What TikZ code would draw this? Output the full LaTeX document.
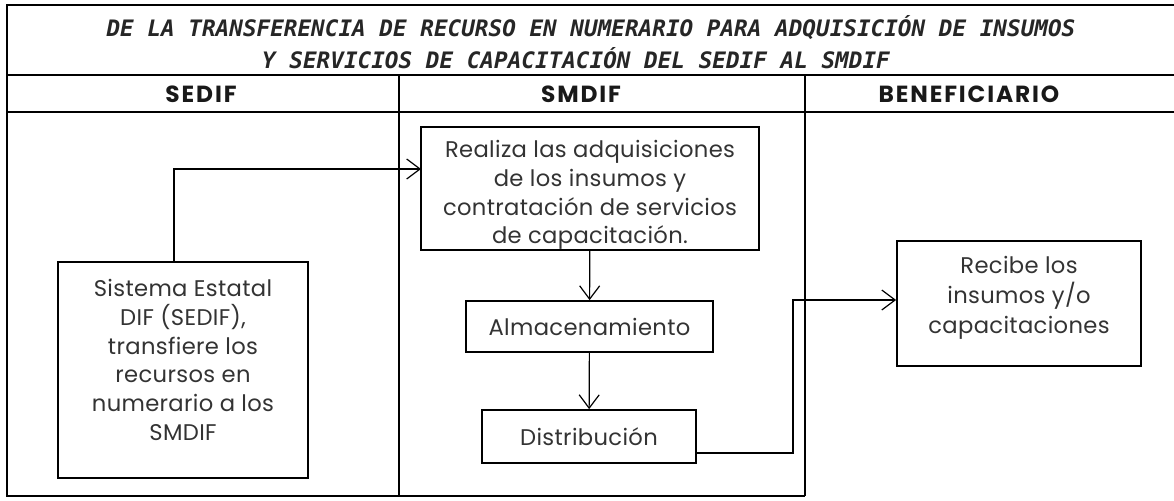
\documentclass[tikz,border=0pt]{standalone}
\usepackage{fontspec}
\usepackage{tikz}
\usetikzlibrary{arrows.meta,positioning}
\setmainfont{Poppins}[LetterSpace=1.5]
\newfontfamily\headfont[LetterSpace=8]{Poppins}
\newfontfamily\titlefont{DejaVu Sans Mono}

\tikzset{
  procbox/.style={draw, line width=1.3pt, align=center, inner sep=0pt,
    font=\fontsize{17}{21.5}\selectfont, text=black!80},
  headtext/.style={font=\headfont\fontsize{17.5}{18}\selectfont\bfseries, text=black!90},
  titletext/.style={font=\titlefont\fontsize{17}{20}\selectfont\bfseries\itshape, text=black!85},
  flow/.style={line width=0.9pt, -{Straight Barb[length=10pt,width=15pt,line width=0.9pt]}},
  frame/.style={line width=1.2pt}
}

\begin{document}
\begin{tikzpicture}[x=0.75pt,y=0.75pt,yscale=-1,xscale=1]
\useasboundingbox (0,0) rectangle (1174,500);

%Frame lines
\draw[frame] (1174,5) -- (7,5) -- (7,496) -- (805,496) ;
\draw[frame] (7,75) -- (1174,75) ;
\draw[frame] (7,112) -- (1174,112) ;
\draw[frame] (399,75) -- (399,496) ;
\draw[frame] (805,75) -- (805,496) ;

% Title
\node[titletext] (title1) at (591,28) {DE LA TRANSFERENCIA DE RECURSO EN NUMERARIO PARA ADQUISICIÓN DE INSUMOS};
\node[titletext] (title2) at (576,58) {Y SERVICIOS DE CAPACITACIÓN DEL SEDIF AL SMDIF};

% Headers
\node[headtext] (hsedif) at (201,94) {SEDIF};
\node[headtext] (hsmdif) at (581,94) {SMDIF};
\node[headtext] (hbenef) at (969,94) {BENEFICIARIO};

% Boxes
\node[procbox, minimum width=250*0.75pt, minimum height=216*0.75pt] (sedif) at (183,370)
  {Sistema Estatal\\ DIF (SEDIF),\\ transfiere los\\ recursos en\\ numerario a los\\ SMDIF\\[-6.5pt]\mbox{}};
\node[procbox, minimum width=338*0.75pt, minimum height=123*0.75pt] (realiza) at (590,188.5)
  {\rule{0pt}{23pt}Realiza las adquisiciones\\ de los insumos y\\ contratación de servicios\\ de capacitación.};
\node[procbox, minimum width=247*0.75pt, minimum height=51*0.75pt] (almacen) at (589.5,326.5)
  {Almacenamiento};
\node[procbox, minimum width=214*0.75pt, minimum height=53*0.75pt] (distrib) at (589,436.5)
  {Distribución};
\node[procbox, minimum width=244*0.75pt, minimum height=125*0.75pt, font=\fontsize{17}{22.5}\selectfont] (recibe) at (1019,303.5)
  {Recibe los\\ insumos y/o\\ capacitaciones\\[-9pt]\mbox{}};

% Connectors
\coordinate (sedifout) at (174,262);
\coordinate (realizain) at (421,169);
\coordinate (distout) at (696,453);
\coordinate (turn) at (793,300);
\draw[flow] (sedifout) |- (realizain) ;
\draw[flow] (realiza) -- (almacen) ;
\draw[flow] (almacen) -- (distrib) ;
\draw[flow] (distout) -| (turn) -- (turn -| recibe.west) ;

\end{tikzpicture}
\end{document}
